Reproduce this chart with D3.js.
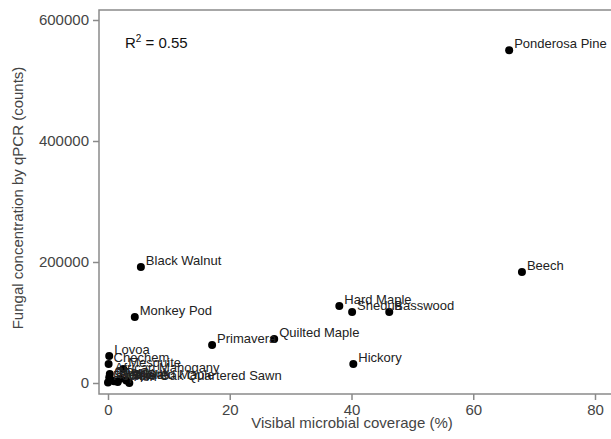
<!DOCTYPE html>
<html>
<head>
<meta charset="utf-8">
<script src="https://cdn.jsdelivr.net/npm/d3@7"></script>
<style>
  body { margin: 0; background: #fff; }
  text { font-family: "Liberation Sans", Arial, sans-serif; }
</style>
</head>
<body>
<div id="chart"></div>
<script>
// Data
var woods = ['Ponderosa Pine', 'Beech', 'Black Walnut', 'Monkey Pod', 'Primavera', 'Quilted Maple',
  'Hard Maple', 'Shedua', 'Basswood', 'Hickory', 'Lovoa', 'Chechem', 'Mesquite', 'African Mahogany',
  'Cherry', 'Padauk', 'Birch', 'Spalted Maple', 'Red Oak', 'White Oak Quartered Sawn', 'Poplar', 'Ash'];
var coverage = [65.9, 68.0, 5.4, 4.4, 17.1, 27.3, 38.0, 40.1, 46.2, 40.3, 0.2, 0.1, 2.5, 0.3,
  0.2, 2.0, 0.5, 3.0, 1.0, 1.6, 0.0, 3.5];
var fungal = [550000, 183500, 191700, 109000, 62800, 72700, 127300, 117400, 117400, 31400, 44600, 31400, 23000, 15000,
  9000, 7000, 5000, 4000, 3000, 1500, 1000, 0];
var xTicks = [0, 20, 40, 60, 80];
var yTicks = [0, 200000, 400000, 600000];

var data = woods.map(function (n, i) { return { name: n, x: coverage[i], y: fungal[i] }; });

var svg = d3.select('#chart').append('svg')
  .attr('width', 611)
  .attr('height', 439);

var x = d3.scaleLinear().domain([0, 80]).range([108, 595]);
var y = d3.scaleLinear().domain([0, 600000]).range([383, 20]);

// plot frame
svg.append('rect')
  .attr('x', 99).attr('y', 10)
  .attr('width', 530).attr('height', 384)
  .attr('fill', 'none')
  .attr('stroke', '#8a8a8a')
  .attr('stroke-width', 1.5);

// axes
var yAxis = svg.append('g')
  .attr('transform', 'translate(99,0)')
  .call(d3.axisLeft(y).tickValues(yTicks).tickSize(6).tickPadding(4).tickFormat(d3.format('d')));
var xAxis = svg.append('g')
  .attr('transform', 'translate(0,394)')
  .call(d3.axisBottom(x).tickValues(xTicks).tickSize(6).tickPadding(4));

[yAxis, xAxis].forEach(function (ax) {
  ax.select('.domain').remove();
  ax.selectAll('line').attr('stroke', '#8a8a8a').attr('stroke-width', 1.5);
  ax.selectAll('text')
    .style('font-size', '15px')
    .style('font-family', '"Liberation Sans", Arial, sans-serif')
    .attr('fill', '#444');
});

// axis titles
svg.append('text')
  .attr('x', 352).attr('y', 428)
  .attr('text-anchor', 'middle')
  .style('font-size', '15px')
  .attr('fill', '#444')
  .text('Visibal microbial coverage (%)');

svg.append('text')
  .attr('transform', 'translate(23,198) rotate(-90)')
  .attr('text-anchor', 'middle')
  .style('font-size', '15px')
  .attr('fill', '#444')
  .text('Fungal concentration by qPCR (counts)');

// R squared
var r2 = svg.append('text')
  .attr('x', 125).attr('y', 48)
  .style('font-size', '15px')
  .attr('fill', '#111');
r2.append('tspan').text('R');
r2.append('tspan').attr('dy', -6).style('font-size', '10px').text('2');
r2.append('tspan').attr('dy', 6).text(' = 0.55');

// points and labels
var pts = svg.append('g');
pts.selectAll('circle')
  .data(data)
  .enter()
  .append('circle')
  .attr('cx', function (d) { return x(d.x); })
  .attr('cy', function (d) { return y(d.y); })
  .attr('r', 4)
  .attr('fill', '#000');

pts.selectAll('text')
  .data(data)
  .enter()
  .append('text')
  .attr('x', function (d) { return x(d.x) + 5; })
  .attr('y', function (d) { return y(d.y) - 2; })
  .style('font-size', '13px')
  .attr('fill', '#222')
  .text(function (d) { return d.name; });
</script>
</body>
</html>
